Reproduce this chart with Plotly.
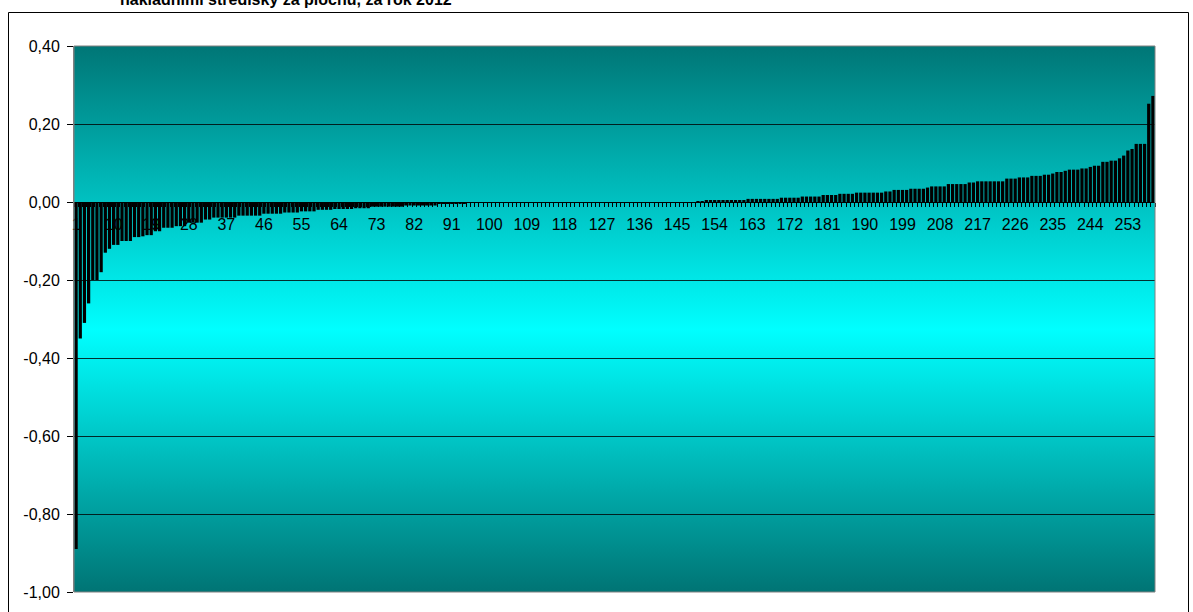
import base64
import plotly.graph_objects as go

# ---------------- data ----------------
categories = list(range(1, 260))

values = [
    -0.89, -0.35, -0.31, -0.26, -0.20, -0.20, -0.18, -0.13, -0.12, -0.11,      # 1-10
    -0.11, -0.10, -0.10, -0.10, -0.09, -0.09, -0.088, -0.085, -0.085, -0.075,  # 11-20
    -0.075, -0.066, -0.066, -0.066, -0.062, -0.062, -0.062, -0.053, -0.053, -0.053,  # 21-30
    -0.053, -0.045, -0.045, -0.040, -0.040, -0.040, -0.040, -0.040, -0.040, -0.035,  # 31-40
    -0.035, -0.035, -0.035, -0.035, -0.035, -0.030, -0.030, -0.030, -0.030, -0.030,  # 41-50
    -0.027, -0.027, -0.027, -0.027, -0.024, -0.024, -0.024, -0.024, -0.020, -0.020,  # 51-60
    -0.020, -0.020, -0.018, -0.018, -0.018, -0.018, -0.018, -0.016, -0.016, -0.016,  # 61-70
    -0.016, -0.012, -0.012, -0.012, -0.012, -0.012, -0.012, -0.012, -0.012, -0.009,  # 71-80
    -0.009, -0.009, -0.009, -0.009, -0.009, -0.009, -0.009, -0.005, -0.005, -0.005,  # 81-90
    -0.005, -0.005, -0.005, -0.005, -0.002, -0.002, -0.002, -0.002, -0.002, 0.0,     # 91-100
    0.0, 0.0, 0.0, 0.0, 0.0, 0.0, 0.0, 0.0, 0.0, 0.0,                                # 101-110
    0.0, 0.0, 0.0, 0.0, 0.0, 0.0, 0.0, 0.0, 0.0, 0.0,                                # 111-120
    0.0, 0.0, 0.0, 0.0, 0.0, 0.0, 0.0, 0.0, 0.0, 0.0,                                # 121-130
    0.0, 0.0, 0.0, 0.0, 0.0, 0.0, 0.0, 0.0, 0.0, 0.0,                                # 131-140
    0.0, 0.0, 0.0, 0.0, 0.0, 0.0, 0.0, 0.0, 0.0, 0.002,                              # 141-150
    0.002, 0.004, 0.004, 0.004, 0.004, 0.004, 0.004, 0.004, 0.004, 0.004,            # 151-160
    0.004, 0.008, 0.008, 0.008, 0.008, 0.008, 0.008, 0.008, 0.008, 0.011,            # 161-170
    0.011, 0.011, 0.011, 0.011, 0.014, 0.014, 0.014, 0.014, 0.014, 0.018,            # 171-180
    0.018, 0.018, 0.018, 0.021, 0.021, 0.021, 0.021, 0.024, 0.024, 0.024,            # 181-190
    0.024, 0.024, 0.024, 0.024, 0.027, 0.027, 0.031, 0.031, 0.031, 0.031,            # 191-200
    0.034, 0.034, 0.034, 0.034, 0.037, 0.040, 0.040, 0.040, 0.040, 0.046,            # 201-210
    0.046, 0.046, 0.046, 0.046, 0.050, 0.050, 0.053, 0.053, 0.053, 0.053,            # 211-220
    0.053, 0.053, 0.053, 0.060, 0.060, 0.060, 0.063, 0.063, 0.063, 0.067,            # 221-230
    0.067, 0.067, 0.070, 0.070, 0.073, 0.077, 0.077, 0.080, 0.083, 0.083,            # 231-240
    0.083, 0.086, 0.086, 0.090, 0.093, 0.093, 0.103, 0.103, 0.106, 0.106,            # 241-250
    0.112, 0.119, 0.132, 0.136, 0.149, 0.149, 0.149, 0.252, 0.272,                   # 251-259
]

x_tick_values = [1, 10, 19, 28, 37, 46, 55, 64, 73, 82, 91, 100, 109, 118, 127, 136,
                 145, 154, 163, 172, 181, 190, 199, 208, 217, 226, 235, 244, 253]
x_tick_labels = [str(v) for v in x_tick_values]

y_tick_values = [-1.0, -0.8, -0.6, -0.4, -0.2, 0.0, 0.2, 0.4]
y_tick_labels = ["-1,00", "-0,80", "-0,60", "-0,40", "-0,20", "0,00", "0,20", "0,40"]

title_text = "nákladními středisky za plochu, za rok 2012"

# ---------------- figure ----------------
W, H = 1193, 612
L, R, T, B = 74, 38, 46, 20
PW, PH = W - L - R, H - T - B

def px_x(p):
    return (p - L) / PW

def px_y(p):
    return (H - B - p) / PH

grad_svg = (
    '<svg xmlns="http://www.w3.org/2000/svg" width="20" height="200" preserveAspectRatio="none">'
    '<defs><linearGradient id="g" x1="0" y1="0" x2="0" y2="1">'
    '<stop offset="0" stop-color="#007676"/>'
    '<stop offset="0.52" stop-color="#00FFFF"/>'
    '<stop offset="1" stop-color="#007474"/>'
    '</linearGradient></defs>'
    '<rect width="20" height="200" fill="url(#g)"/></svg>'
)
grad_src = "data:image/svg+xml;base64," + base64.b64encode(grad_svg.encode()).decode()

fig = go.Figure(
    go.Bar(
        x=categories,
        y=values,
        marker=dict(color="black", line=dict(width=0)),
        hoverinfo="x+y",
    )
)

font_family = "Arial, Liberation Sans, sans-serif"

fig.update_layout(
    width=W,
    height=H,
    margin=dict(l=L, r=R, t=T, b=B, pad=0),
    paper_bgcolor="white",
    plot_bgcolor="rgba(0,0,0,0)",
    bargap=0.22,
    showlegend=False,
    font=dict(family=font_family, size=16, color="black"),
    images=[dict(
        source=grad_src, xref="paper", yref="paper", x=0, y=1,
        sizex=1, sizey=1, xanchor="left", yanchor="top",
        sizing="stretch", layer="below",
    )],
    xaxis=dict(
        range=[0.5, 259.5],
        anchor="free",
        position=1.0 / 1.4,
        showline=True, linecolor="black", linewidth=1,
        tickmode="array", tickvals=x_tick_values, ticktext=x_tick_labels,
        ticks="", ticklabelstandoff=8,
        tickfont=dict(size=16, color="black", family=font_family),
        showgrid=False, zeroline=False,
        minor=dict(tickmode="linear", tick0=0.5, dtick=1, ticks="outside",
                   ticklen=4, tickcolor="black", tickwidth=1, showgrid=False),
        fixedrange=True,
    ),
    yaxis=dict(
        range=[-1.0, 0.4],
        tickmode="array", tickvals=y_tick_values, ticktext=y_tick_labels,
        ticks="outside", ticklen=6, tickcolor="black", tickwidth=1,
        ticklabelstandoff=4,
        showline=True, linecolor="#808080", linewidth=1,
        showgrid=True, gridcolor="rgba(0,0,0,0.8)", gridwidth=1,
        zeroline=False,
        tickfont=dict(size=16, color="black", family=font_family),
        fixedrange=True,
    ),
    shapes=[
        dict(type="rect", xref="paper", yref="paper", x0=0, x1=1, y0=0, y1=1,
             line=dict(color="#808080", width=1), layer="above"),
        dict(type="rect", xref="paper", yref="paper",
             x0=px_x(8.5), x1=px_x(1188.5), y0=px_y(640), y1=px_y(12.5),
             line=dict(color="black", width=1), layer="above"),
    ],
    annotations=[dict(
        text="<b>" + title_text + "</b>", xref="paper", yref="paper",
        x=px_x(118), y=px_y(10), xanchor="left", yanchor="bottom",
        showarrow=False, font=dict(size=16, color="black", family=font_family),
    )],
)

fig.write_html(
    "out.html",
    config={"displayModeBar": False},
    post_script="document.body.style.margin='0px';document.body.style.padding='0px';",
)
